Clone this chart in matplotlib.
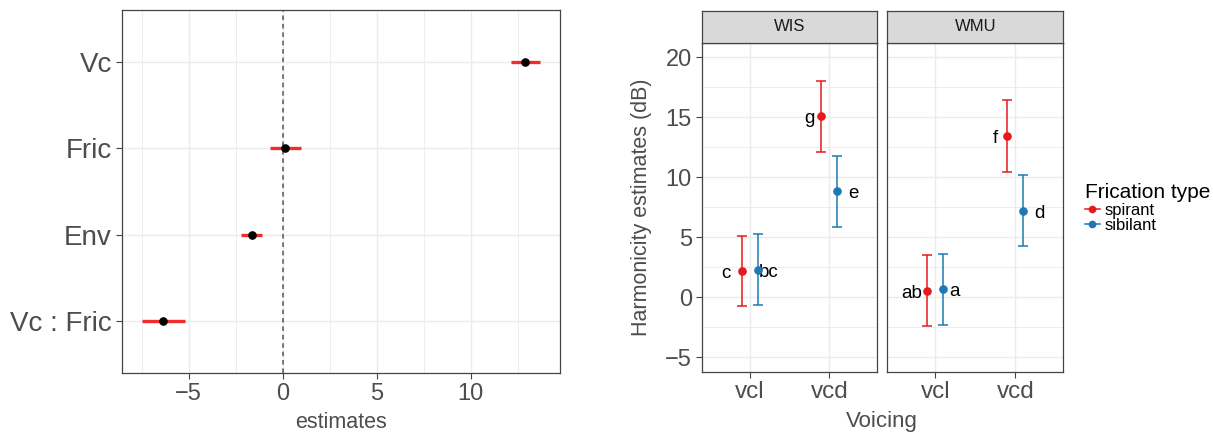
import matplotlib
matplotlib.use("Agg")
import matplotlib.pyplot as plt
from matplotlib.lines import Line2D
from matplotlib.ticker import MultipleLocator

plt.rcParams["font.family"] = ["Liberation Sans", "DejaVu Sans"]

# coefficient plot (left)
coef_names = ["Vc", "Fric", "Env", "Vc : Fric"]
coef_est = [12.9, 0.12, -1.65, -6.37]
coef_lo = [12.14, -0.67, -2.2, -7.49]
coef_hi = [13.71, 0.96, -1.08, -5.21]

# harmonicity estimates (right), one row per site, columns = voicing
sites = ["WIS", "WMU"]
voicing = ["vcl", "vcd"]
frication = ["spirant", "sibilant"]
spirant_est = [[2.14, 15.07], [0.50, 13.45]]
spirant_lo = [[-0.78, 12.12], [-2.42, 10.47]]
spirant_hi = [[5.13, 18.05], [3.48, 16.43]]
sibilant_est = [[2.28, 8.83], [0.64, 7.19]]
sibilant_lo = [[-0.67, 5.88], [-2.31, 4.23]]
sibilant_hi = [[5.24, 11.81], [3.62, 10.17]]
spirant_letters = [["c", "g"], ["ab", "f"]]
sibilant_letters = [["bc", "e"], ["a", "d"]]

RED = "#E41A1C"
BLUE = "#1F78B4"
GRID = "#EBEBEB"
BORDER = "#444444"
TICKTXT = "#4D4D4D"

W, H = 1213, 434
fig = plt.figure(figsize=(W / 100, H / 100), dpi=100)


def frac(x0, y0, x1, y1):
    # pixel box (top-left origin) -> figure fraction rect
    return [x0 / W, 1 - y1 / H, (x1 - x0) / W, (y1 - y0) / H]


def style_axes(ax):
    for s in ax.spines.values():
        s.set_color(BORDER)
        s.set_linewidth(0.9)
    ax.tick_params(length=4, width=0.8, color=BORDER, labelcolor=TICKTXT, pad=3)
    ax.tick_params(which="minor", length=0)
    ax.grid(True, which="major", color=GRID, lw=1.0)
    ax.grid(True, which="minor", color=GRID, lw=0.6)
    ax.set_axisbelow(True)


# ---- left panel
ax1 = fig.add_axes(frac(121.7, 10.3, 560, 373))
ypos = [len(coef_names) - i for i in range(len(coef_names))]
ax1.axvline(0, color="#555555", lw=1.1, ls=(0, (3, 2.5)), zorder=1)
ax1.hlines(ypos, coef_lo, coef_hi, color="#F02C2C", lw=2.4, zorder=2)
ax1.plot(coef_est, ypos, "o", color="black", ms=5.2, zorder=3)
ax1.set_xlim(-8.56, 14.75)
ax1.set_ylim(0.4, 4.6)
ax1.set_yticks(ypos)
ax1.set_yticklabels(coef_names, fontsize=20)
ax1.xaxis.set_major_locator(MultipleLocator(5))
ax1.xaxis.set_minor_locator(MultipleLocator(2.5))
ax1.set_xticks([-5, 0, 5, 10])
ax1.set_xticklabels(["\u22125", "0", "5", "10"])
style_axes(ax1)
ax1.tick_params(axis="x", labelsize=17)
fig.text(341 / W, 1 - 422 / H, "estimates", ha="center", va="center", fontsize=15.5, color=TICKTXT)

# ---- right panels
panel_px = [(701.7, 877.3), (887.3, 1063.3)]
dodge = 0.1
for k, site in enumerate(sites):
    x0, x1 = panel_px[k]
    ax = fig.add_axes(frac(x0, 42.7, x1, 371.7))
    xs = list(range(1, len(voicing) + 1))
    for est, lo, hi, col, letters, sgn in [
        (spirant_est[k], spirant_lo[k], spirant_hi[k], RED, spirant_letters[k], -1),
        (sibilant_est[k], sibilant_lo[k], sibilant_hi[k], BLUE, sibilant_letters[k], 1),
    ]:
        xx = [x + sgn * dodge for x in xs]
        yerr = [[e - l for e, l in zip(est, lo)], [h - e for e, h in zip(est, hi)]]
        ax.errorbar(xx, est, yerr=yerr, fmt="o", color=col, ms=5.2, elinewidth=1.1,
                    capsize=3.5, capthick=1.1, zorder=3)
        for j, (x, y, lab) in enumerate(zip(xx, est, letters)):
            # left-side letters sit farther out on vcl, right-side farther on vcd
            if sgn < 0:
                off = -0.2 if j == 0 else -0.15
            else:
                off = 0.145 if j == 0 else 0.2
            ax.text(x + off, y - 0.2, lab, fontsize=13.5, ha="center", va="center", color="black")
    ax.set_xlim(0.4, 2.6)
    ax.set_ylim(-6.22, 21.22)
    ax.set_xticks(xs)
    ax.set_xticklabels(voicing, fontsize=17.5)
    ax.yaxis.set_major_locator(MultipleLocator(5))
    ax.yaxis.set_minor_locator(MultipleLocator(2.5))
    style_axes(ax)
    if k == 0:
        ax.set_yticks([-5, 0, 5, 10, 15, 20])
        ax.set_yticklabels(["\u22125", "0", "5", "10", "15", "20"], fontsize=17)
    else:
        ax.tick_params(axis="y", left=False, labelleft=False)
    # facet strip
    sax = fig.add_axes(frac(x0, 10.7, x1, 42.7))
    sax.set_facecolor("#D9D9D9")
    sax.set_xticks([])
    sax.set_yticks([])
    for s in sax.spines.values():
        s.set_color(BORDER)
        s.set_linewidth(0.9)
    sax.text(0.5, 0.5, site, transform=sax.transAxes, ha="center", va="center",
             fontsize=12, color="#1A1A1A")

fig.text(641 / W, 1 - 207 / H, "Harmonicity estimates (dB)", ha="center", va="center",
         rotation=90, fontsize=15.5, color=TICKTXT)
fig.text(882 / W, 1 - 421 / H, "Voicing", ha="center", va="center", fontsize=16, color=TICKTXT)

handles = [
    Line2D([], [], color=RED, marker="o", ms=4.5, lw=1.1),
    Line2D([], [], color=BLUE, marker="o", ms=4.5, lw=1.1),
]
leg = fig.legend(handles, frication, loc="upper left", bbox_to_anchor=(1073 / W, 1 - 171 / H),
                 frameon=False, fontsize=12, title="Frication type", title_fontsize=15,
                 handlelength=0.9, handletextpad=0.3, labelspacing=0.0, borderpad=0.2)
leg._legend_box.align = "left"
leg._legend_box.sep = 1

fig.savefig("out.png", dpi=100, facecolor="white")
